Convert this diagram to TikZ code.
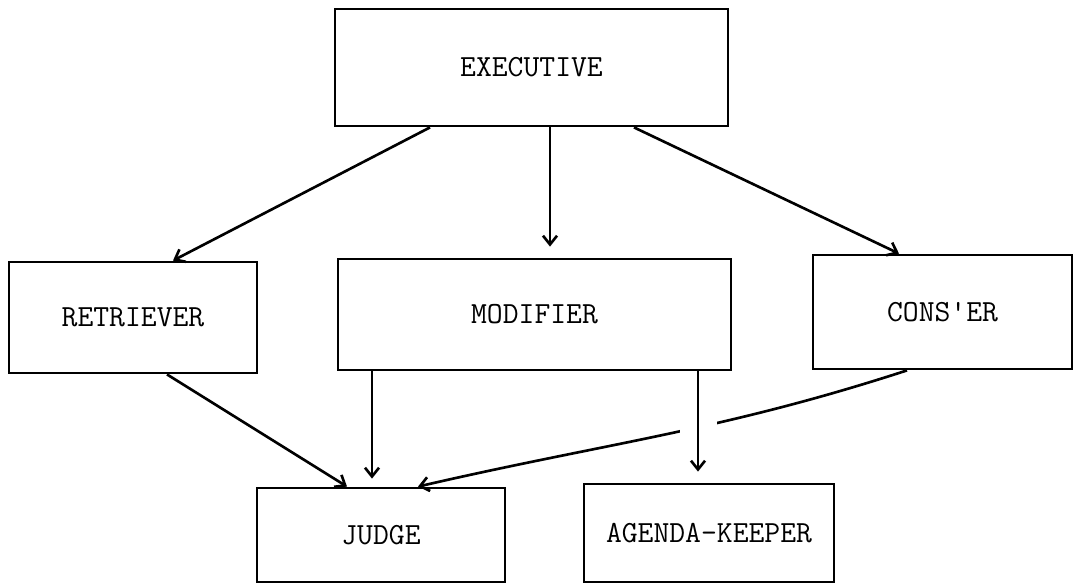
\documentclass[tikz,border=0pt]{standalone}
\usepackage{fontspec}
\usepackage{tikz}
\usetikzlibrary{arrows.meta, calc, positioning}

\begin{document}
\begin{tikzpicture}[
    box/.style={draw, line width=1.6pt, inner sep=0pt, font=\ttfamily\fontsize{17.5}{20}\selectfont},
    link/.style={line width=1.5pt, -{Straight Barb[length=5pt,width=8pt]}}
]

        \useasboundingbox (0,0) rectangle (21.5,-11.7); % khung trang

        % Cac hop
        \node[box, minimum width=7.86cm, minimum height=2.34cm] (exec) at (10.63,-1.35) {EXECUTIVE}; % tren cung
        \node[box, minimum width=4.96cm, minimum height=2.22cm] (retr) at (2.66,-6.35) {RETRIEVER}; % trai
        \node[box, minimum width=7.86cm, minimum height=2.22cm] (modi) at (10.69,-6.29) {MODIFIER}; % giua
        \node[box, minimum width=5.18cm, minimum height=2.28cm] (cons) at (18.85,-6.24) {CONS'ER}; % phai
        \node[box, minimum width=4.96cm, minimum height=1.88cm] (judge) at (7.62,-10.70) {JUDGE}; % duoi trai
        \node[box, minimum width=5.00cm, minimum height=1.96cm] (agenda) at (14.18,-10.66) {AGENDA-KEEPER}; % duoi phai

        % Mui ten tu EXECUTIVE
        \draw[link] ([xshift=-2.03cm]exec.south) -- ([xshift=0.8cm]retr.north);
        \draw[link, shorten >=0.22cm] ([xshift=3.7mm]exec.south) -- ([xshift=3.7mm]exec.south |- modi.north);
        \draw[link] ([xshift=2.05cm]exec.south) -- ([xshift=-0.87cm]cons.north);

        % Mui ten vao JUDGE
        \draw[link] ([xshift=0.68cm]retr.south) -- ([xshift=-0.68cm]judge.north);
        \draw[link, shorten >=0.16cm] ([xshift=-3.25cm]modi.south) -- ([xshift=-3.25cm]modi.south |- judge.north);
        \draw[link] ([xshift=-0.71cm]cons.south) to[out=198, in=13] ([xshift=0.74cm]judge.north);

        % Mui ten vao AGENDA-KEEPER (cat qua duong tren)
        \draw[link, shorten >=0.22cm,
              preaction={draw=white, -, line width=0.74cm, shorten <=0.5cm, shorten >=0.9cm}]
            ([xshift=3.27cm]modi.south) -- ([xshift=3.27cm]modi.south |- agenda.north);

\end{tikzpicture}
\end{document}
